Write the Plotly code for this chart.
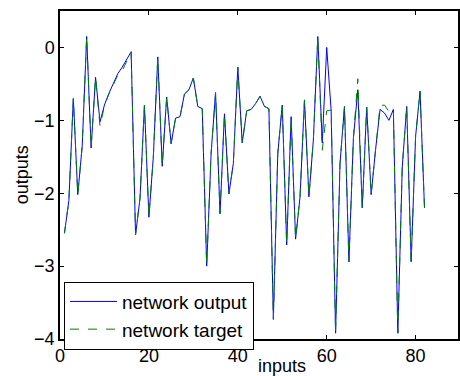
import plotly.graph_objects as go

inputs = list(range(1, 83))
network_output = [
    -2.55, -2.10, -0.70, -2.02, -1.35, 0.15, -1.38, -0.41, -1.02, -0.79,
    -0.63, -0.49, -0.36, -0.27, -0.16, -0.06, -2.57, -2.07, -0.79, -2.33,
    -1.50, -0.13, -1.63, -0.68, -1.32, -0.97, -0.95, -0.64, -0.58, -0.42,
    -0.81, -0.84, -3.00, -1.45, -0.62, -2.28, -0.91, -2.01, -1.59, -0.27,
    -1.31, -0.87, -0.85, -0.77, -0.67, -0.81, -0.84, -3.73, -1.45, -0.79,
    -2.71, -0.95, -2.63, -2.05, -0.72, -2.05, -1.27, 0.15, -1.31, 0.00,
    -0.86, -3.92, -1.59, -0.81, -2.94, -1.25, -0.58, -2.20, -0.82, -2.02,
    -1.40, -0.85, -0.90, -1.00, -0.85, -3.92, -1.64, -0.81, -2.94, -1.22,
    -0.60, -2.20,
]
network_target = [
    -2.55, -2.10, -0.70, -2.02, -1.35, 0.15, -1.38, -0.41, -1.08, -0.80,
    -0.64, -0.50, -0.38, -0.32, -0.18, -0.06, -2.57, -2.07, -0.79, -2.33,
    -1.50, -0.13, -1.63, -0.68, -1.32, -0.97, -0.95, -0.64, -0.58, -0.42,
    -0.81, -0.84, -3.00, -1.45, -0.62, -2.28, -0.91, -2.01, -1.59, -0.27,
    -1.31, -0.87, -0.85, -0.77, -0.67, -0.81, -0.84, -3.73, -1.45, -0.79,
    -2.71, -0.95, -2.63, -2.05, -0.72, -2.05, -1.27, 0.15, -1.41, -0.87,
    -0.86, -3.92, -1.59, -0.81, -2.94, -1.25, -0.43, -2.20, -0.82, -2.02,
    -1.40, -0.80, -0.79, -0.88, -0.85, -3.92, -1.64, -0.81, -2.94, -1.22,
    -0.60, -2.20,
]
x_ticks = [0, 20, 40, 60, 80]
y_ticks = [-4, -3, -2, -1, 0]

FONT = "Liberation Sans, Arial, sans-serif"

fig = go.Figure()
fig.add_trace(go.Scatter(x=inputs, y=network_output, mode="lines",
                         name="network output",
                         line=dict(color="#0000FF", width=1)))
fig.add_trace(go.Scatter(x=inputs, y=network_target, mode="lines",
                         name="network target",
                         line=dict(color="#008000", width=1, dash="dash")))

axis_common = dict(showgrid=False, zeroline=False, showline=True,
                   linecolor="black", linewidth=1.5, mirror="ticks",
                   ticks="inside", ticklen=4, tickcolor="black",
                   tickfont=dict(family=FONT, size=18, color="black"))

fig.update_layout(
    width=460, height=376,
    margin=dict(l=60, r=0, t=11, b=37),
    paper_bgcolor="white", plot_bgcolor="white",
    font=dict(family=FONT, size=18, color="black"),
    xaxis=dict(range=[0, 89.54], tickvals=x_ticks, **axis_common),
    yaxis=dict(range=[-4, 0.5], tickvals=y_ticks, **axis_common),
    showlegend=True,
    legend=dict(x=0.01, y=0.175, xanchor="left", yanchor="top",
                bgcolor="white", bordercolor="black", borderwidth=1,
                font=dict(family=FONT, size=19, color="black"),
                tracegroupgap=0, itemwidth=47, entrywidth=196,
                entrywidthmode="pixels"),
    annotations=[
        dict(text="inputs", xref="paper", yref="paper", x=0.5575, y=-0.082,
             xanchor="center", yanchor="middle", showarrow=False,
             font=dict(family=FONT, size=18, color="black")),
        dict(text="outputs", xref="paper", yref="paper", x=-0.095, y=0.5,
             xanchor="center", yanchor="middle", showarrow=False,
             textangle=-90, font=dict(family=FONT, size=18, color="black")),
    ],
)

fig.write_html("out.html")
